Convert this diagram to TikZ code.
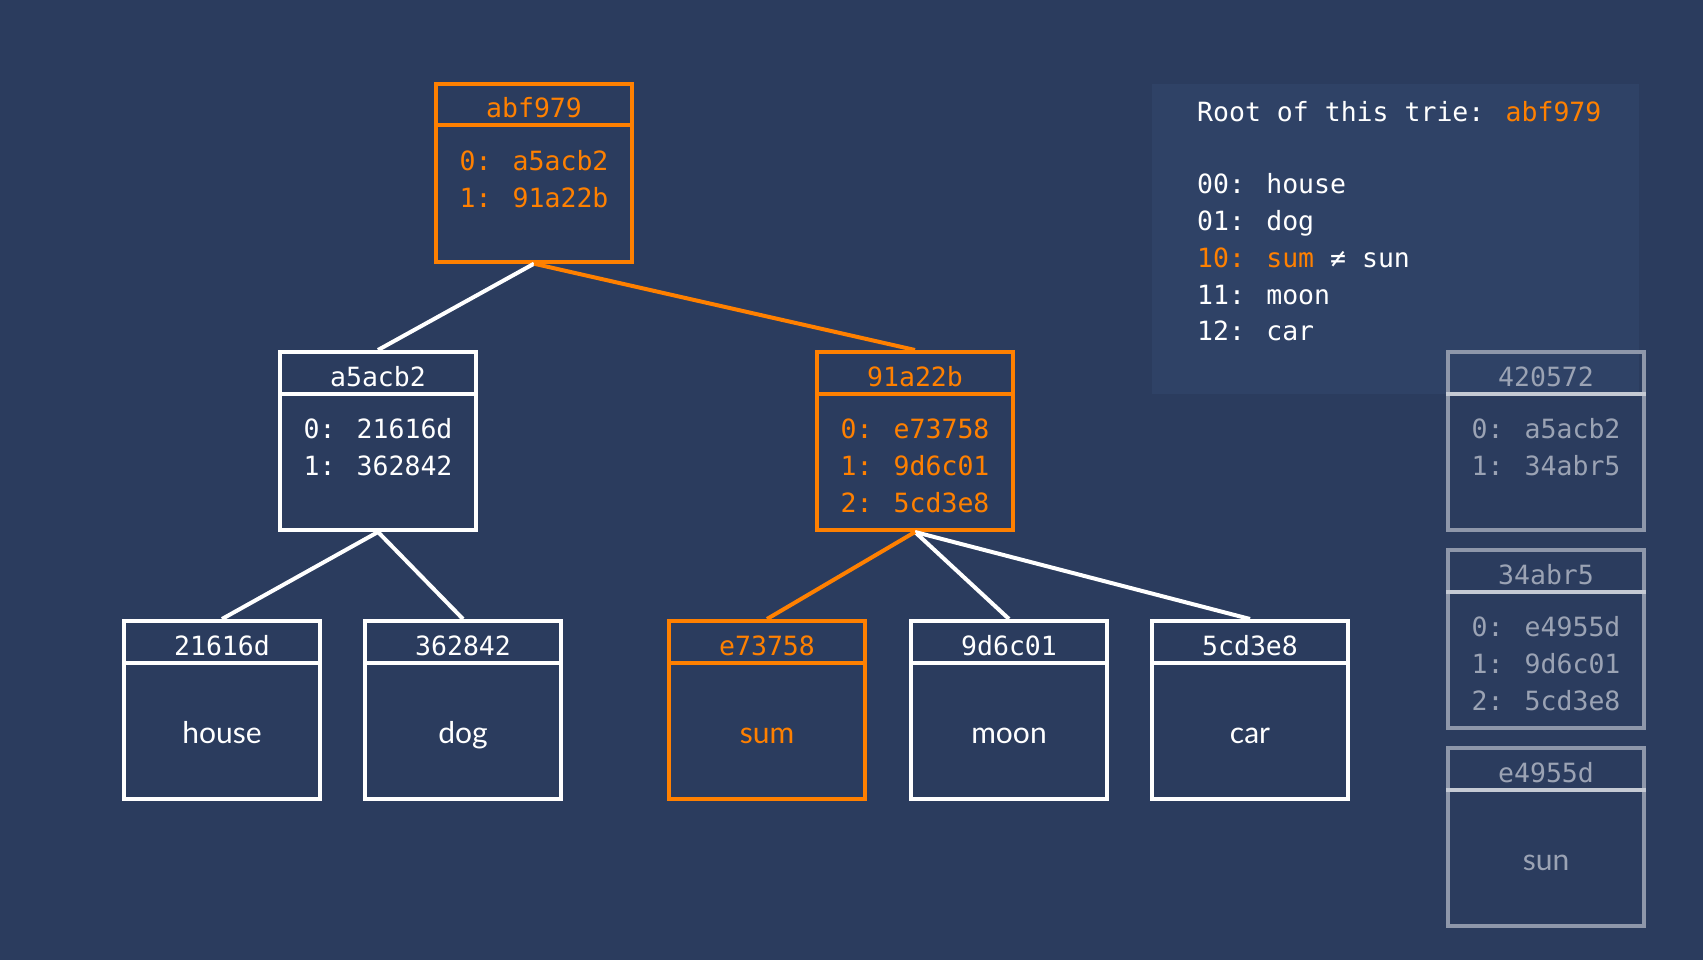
\documentclass[tikz,border=0pt]{standalone}
\usepackage{fontspec}
\newfontfamily\monofont{DejaVu Sans Mono}
\newfontfamily\wordfont{Lato}
\definecolor{bgblue}{HTML}{2B3C5E}
\definecolor{panelblue}{HTML}{2F4266}
\definecolor{hot}{HTML}{FF8000}
\definecolor{dimline}{HTML}{8E97AA}
\definecolor{dimdiv}{HTML}{C5CAD4}
\definecolor{dimtext}{HTML}{9BA3B4}
\tikzset{
  boxshape/.style={draw, line width=4pt, minimum width=196pt, minimum height=178pt, inner sep=0pt},
  mono/.style={font=\monofont\fontsize{26.5}{32}\selectfont, inner sep=0pt},
  word/.style={font=\wordfont\fontsize{30}{36}\selectfont, inner sep=0pt},
  conn/.style={line width=4pt},
}
% box with a header strip: name, centre x, outer top y, border colour, divider colour, title colour, title
\newcommand{\triebox}[7]{%
  \node[boxshape, draw=#4] (#1) at (#2,#3+90) {};
  \draw[line width=4pt, #5] ([yshift=-43.5pt]#1.north west) -- ([yshift=-43.5pt]#1.north east);
  \node[mono, text=#6, anchor=base] (#1-title) at (#2,#3+35) {#7};
}
\begin{document}
\begin{tikzpicture}[x=1pt,y=-1pt]
  \fill[bgblue] (0,0) rectangle (1703,960);
  \useasboundingbox (0,0) rectangle (1703,960);

  % legend panel
  \fill[panelblue] (1152,84) rectangle (1639,394);
  \node[mono, text=white, anchor=base west] (lg-root) at (1197,122) {Root of this trie: \textcolor{hot}{abf979}};
  \node[mono, text=white, anchor=base west] (lg-00) at (1197,193.5) {00: house};
  \node[mono, text=white, anchor=base west] (lg-01) at (1197,230.5) {01: dog};
  \node[mono, text=white, anchor=base west] (lg-10) at (1197,267.5) {\textcolor{hot}{10: sum} ≠ sun};
  \node[mono, text=white, anchor=base west] (lg-11) at (1197,304) {11: moon};
  \node[mono, text=white, anchor=base west] (lg-12) at (1197,340.5) {12: car};

  % root
  \triebox{root}{534}{82.7}{hot}{hot}{hot}{abf979}
  \node[mono, text=hot, anchor=base] (root-0) at (534,170.2) {0: a5acb2};
  \node[mono, text=hot, anchor=base] (root-1) at (534,207.2) {1: 91a22b};

  % second level
  \triebox{na}{378}{351}{white}{white}{white}{a5acb2}
  \node[mono, text=white, anchor=base] (na-0) at (378,438.5) {0: 21616d};
  \node[mono, text=white, anchor=base] (na-1) at (378,475.5) {1: 362842};

  \triebox{nb}{915}{351}{hot}{hot}{hot}{91a22b}
  \node[mono, text=hot, anchor=base] (nb-0) at (915,438.5) {0: e73758};
  \node[mono, text=hot, anchor=base] (nb-1) at (915,475.5) {1: 9d6c01};
  \node[mono, text=hot, anchor=base] (nb-2) at (915,512.5) {2: 5cd3e8};

  % leaves
  \triebox{la}{222}{620}{white}{white}{white}{21616d}
  \node[word, text=white, anchor=base] (la-w) at (222,743) {house};
  \triebox{lb}{463}{620}{white}{white}{white}{362842}
  \node[word, text=white, anchor=base] (lb-w) at (463,743) {dog};
  \triebox{lc}{767}{620}{hot}{hot}{hot}{e73758}
  \node[word, text=hot, anchor=base] (lc-w) at (767,743) {sum};
  \triebox{ld}{1009}{620}{white}{white}{white}{9d6c01}
  \node[word, text=white, anchor=base] (ld-w) at (1009,743) {moon};
  \triebox{le}{1250}{620}{white}{white}{white}{5cd3e8}
  \node[word, text=white, anchor=base] (le-w) at (1250,743) {car};

  % connectors
  \draw[conn, white] (root.south) -- (na.north);
  \draw[conn, hot] (root.south) -- (nb.north);
  \draw[conn, white] (na.south) -- (la.north);
  \draw[conn, white] (na.south) -- (lb.north);
  \draw[conn, white] (nb.south) -- (ld.north);
  \draw[conn, white] (nb.south) -- (le.north);
  \draw[conn, hot] (nb.south) -- (lc.north);

  % side column
  \triebox{ga}{1546}{351}{dimline}{dimdiv}{dimtext}{420572}
  \node[mono, text=dimtext, anchor=base] (ga-0) at (1546,438.5) {0: a5acb2};
  \node[mono, text=dimtext, anchor=base] (ga-1) at (1546,475.5) {1: 34abr5};

  \triebox{gb}{1546}{549}{dimline}{dimdiv}{dimtext}{34abr5}
  \node[mono, text=dimtext, anchor=base] (gb-0) at (1546,636.5) {0: e4955d};
  \node[mono, text=dimtext, anchor=base] (gb-1) at (1546,673.5) {1: 9d6c01};
  \node[mono, text=dimtext, anchor=base] (gb-2) at (1546,710.5) {2: 5cd3e8};

  \triebox{gc}{1546}{747}{dimline}{dimdiv}{dimtext}{e4955d}
  \node[word, text=dimtext, anchor=base] (gc-w) at (1546,870) {sun};
\end{tikzpicture}
\end{document}
